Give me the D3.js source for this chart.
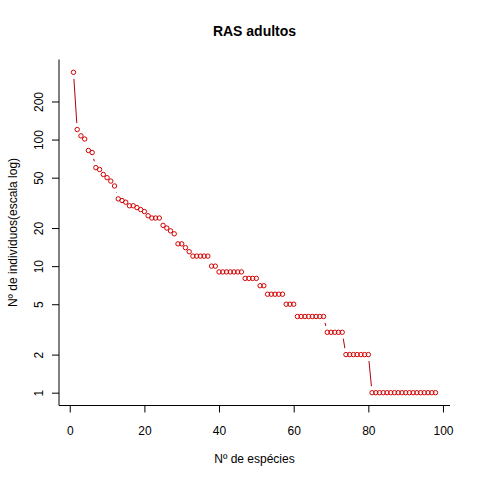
<!DOCTYPE html>
<html lang="pt">
<head>
<meta charset="utf-8">
<title>RAS adultos</title>
<script src="https://d3js.org/d3.v7.min.js"></script>
<style>
  body { margin: 0; background: #fff; }
  svg text { font-family: "Liberation Sans", Arial, sans-serif; fill: #000; }
</style>
</head>
<body>
<div id="chart"></div>
<script>
// species rank (1..98) and abundance
const ranks = d3.range(1, 99);
const abundance = [
  340, 120, 107, 101, 82, 79, 60, 58, 53, 50,
  47, 43, 34, 33, 32, 30, 30, 29, 28, 27,
  25, 24, 24, 24, 21, 20, 19, 18, 15, 15,
  14, 13, 12, 12, 12, 12, 12, 10, 10, 9,
  9, 9, 9, 9, 9, 9, 8, 8, 8, 8,
  7, 7, 6, 6, 6, 6, 6, 5, 5, 5,
  4, 4, 4, 4, 4, 4, 4, 4, 3, 3,
  3, 3, 3, 2, 2, 2, 2, 2, 2, 2,
  1, 1, 1, 1, 1, 1, 1, 1, 1, 1,
  1, 1, 1, 1, 1, 1, 1, 1
];
const xTicks = [0, 20, 40, 60, 80, 100];
const yTicks = [1, 2, 5, 10, 20, 50, 100, 200];

const data = ranks.map((r, i) => ({ r: r, v: abundance[i] }));

const W = 480, H = 480;
const pLeft = 59, pRight = 450, pTop = 59.5, pBottom = 405.5;

const svg = d3.select("#chart").append("svg")
    .attr("width", W).attr("height", H);

// R style 4% padding around the data range
const xr = d3.extent(ranks), xpad = (xr[1] - xr[0]) * 0.04;
const x = d3.scaleLinear()
    .domain([xr[0] - xpad, xr[1] + xpad])
    .range([pLeft, pRight]);

const lr = d3.extent(abundance).map(Math.log10), lpad = (lr[1] - lr[0]) * 0.04;
const y = d3.scaleLog()
    .domain([Math.pow(10, lr[0] - lpad), Math.pow(10, lr[1] + lpad)])
    .range([pBottom, pTop]);

// L-shaped box
svg.append("path")
    .attr("d", `M${pLeft},${pTop}V${pBottom}H${pRight}`)
    .attr("fill", "none").attr("stroke", "#000").attr("stroke-width", 1);

// x axis
const gx = svg.append("g")
    .attr("transform", `translate(0,${pBottom})`)
    .call(d3.axisBottom(x).tickValues(xTicks).tickSize(7).tickFormat(d3.format("d")));
gx.select(".domain").remove();
gx.selectAll("line").attr("stroke", "#000");
gx.selectAll("text").attr("y", 29).attr("dy", null).style("font-size", "12px");

// y axis, labels turned like R's las=0
const gy = svg.append("g")
    .attr("transform", `translate(${pLeft},0)`)
    .call(d3.axisLeft(y).tickValues(yTicks).tickSize(7).tickFormat(d3.format("d")));
gy.select(".domain").remove();
gy.selectAll("line").attr("stroke", "#000");
gy.selectAll("text")
    .attr("x", 0).attr("y", -16).attr("dy", null)
    .attr("text-anchor", "middle")
    .attr("transform", "rotate(-90)")
    .style("font-size", "12px");

// connecting line with gaps around the points (type = "b")
const gap = 6.5;
const segs = [];
for (let i = 1; i < data.length; i++) {
  const x0 = x(data[i - 1].r), y0 = y(data[i - 1].v);
  const x1 = x(data[i].r), y1 = y(data[i].v);
  const dx = x1 - x0, dy = y1 - y0, len = Math.hypot(dx, dy);
  if (len > 2 * gap) {
    const ux = dx / len, uy = dy / len;
    segs.push([x0 + ux * gap, y0 + uy * gap, x1 - ux * gap, y1 - uy * gap]);
  }
}
svg.append("g").selectAll("line")
  .data(segs)
  .enter().append("line")
    .attr("x1", d => d[0]).attr("y1", d => d[1])
    .attr("x2", d => d[2]).attr("y2", d => d[3])
    .attr("stroke", "#b00010").attr("stroke-width", 1);

// open circles
svg.append("g").selectAll("circle")
  .data(data)
  .enter().append("circle")
    .attr("cx", d => x(d.r))
    .attr("cy", d => y(d.v))
    .attr("r", 2.2)
    .attr("fill", "none")
    .attr("stroke", "#d40000")
    .attr("stroke-width", 1);

// titles
const cx = (pLeft + pRight) / 2, cy = (pTop + pBottom) / 2;
svg.append("text")
    .attr("x", cx).attr("y", 36)
    .attr("text-anchor", "middle")
    .style("font-size", "14px").style("font-weight", "bold")
    .text("RAS adultos");

svg.append("text")
    .attr("x", cx).attr("y", 463)
    .attr("text-anchor", "middle")
    .style("font-size", "12px")
    .text("Nº de espécies");

svg.append("text")
    .attr("transform", `translate(17,${cy}) rotate(-90)`)
    .attr("text-anchor", "middle")
    .style("font-size", "12px")
    .text("Nº de indivíduos(escala log)");
</script>
</body>
</html>
